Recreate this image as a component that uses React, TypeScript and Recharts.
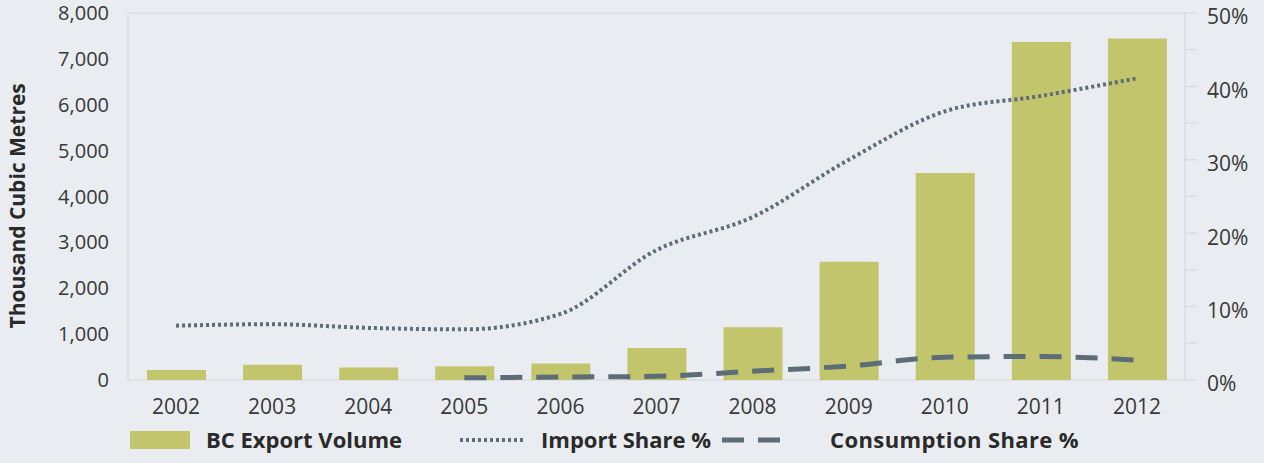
import React from "react";
import { ComposedChart, Bar, Line, XAxis, YAxis, CartesianGrid, Legend } from "recharts";

const years = ["2002", "2003", "2004", "2005", "2006", "2007", "2008", "2009", "2010", "2011", "2012"];
const exportVolume = [220, 330, 270, 300, 360, 700, 1150, 2580, 4510, 7370, 7445];
const importShare = [7.4, 7.6, 7.1, 6.9, 9.0, 17.7, 22.2, 30.0, 36.6, 38.7, 41.1];
const consumptionShare = [null, null, null, 0.3, 0.4, 0.5, 1.2, 1.9, 3.1, 3.2, 2.7];

const volumeTicks = [0, 1000, 2000, 3000, 4000, 5000, 6000, 7000, 8000];
const shareTicks = [0, 5, 10, 15, 20, 25, 30, 35, 40, 45, 50];

const data = years.map((year, i) => ({
    year,
    volume: exportVolume[i],
    importShare: importShare[i],
    consumption: consumptionShare[i],
}));

const BG = "#e9edf1";
const BAR = "#c3c56c";
const LINE = "#5d6d78";
const GRID = "#d6dce1";
const TEXT = "#383838";
const FONT = "'Open Sans', Lato, sans-serif";

function LegendRow() {
    const label = { fontFamily: FONT, fontWeight: 700, fontSize: 22, fill: "#2a2a2a" };
    return (
        <svg width={1264} height={50}>
            <rect x={130} y={16} width={60} height={18} fill={BAR} />
            <text x={206} y={33} style={label}>BC Export Volume</text>
            <line x1={460} y1={25} x2={526} y2={25} stroke={LINE} strokeWidth={4} strokeDasharray="3 3" />
            <text x={541} y={33} style={label}>Import Share %</text>
            <line x1={722} y1={25} x2={792} y2={25} stroke={LINE} strokeWidth={5} strokeDasharray="22 14" />
            <text x={830} y={33} style={{ ...label, letterSpacing: 0.4 }}>Consumption Share %</text>
        </svg>
    );
}

export default function App() {
    return (
        <div style={{ position: "absolute", left: 0, top: 0, width: 1264, height: 463, background: BG }}>
            <ComposedChart
                width={1264}
                height={463}
                data={data}
                margin={{ top: 13, right: 0, left: 0, bottom: 0 }}
            >
                <CartesianGrid horizontal vertical={false} stroke={GRID} strokeWidth={1.5} />
                <XAxis
                    dataKey="year"
                    axisLine={false}
                    tickLine={false}
                    tickMargin={13}
                    height={35}
                    tick={{ fill: TEXT, fontSize: 21, fontFamily: FONT }}
                />
                <YAxis
                    yAxisId="left"
                    width={128}
                    domain={[0, 8000]}
                    ticks={volumeTicks}
                    interval={0}
                    axisLine={{ stroke: GRID, strokeWidth: 1.5 }}
                    tickLine={false}
                    tickSize={0}
                    tickMargin={19}
                    tickFormatter={(v: number) => v.toLocaleString("en-US")}
                    tick={{ fill: TEXT, fontSize: 20, fontFamily: FONT }}
                    label={{
                        value: "Thousand Cubic Metres",
                        angle: -90,
                        position: "insideLeft",
                        offset: 18,
                        dy: 132,
                        style: { fill: "#2a2a2a", fontSize: 21, fontWeight: 700, fontFamily: FONT },
                    }}
                />
                <YAxis
                    yAxisId="right"
                    orientation="right"
                    width={79}
                    domain={[0, 50]}
                    ticks={shareTicks}
                    interval={0}
                    axisLine={{ stroke: GRID, strokeWidth: 1.5 }}
                    tickLine={{ stroke: GRID, strokeWidth: 1.5 }}
                    tickSize={12}
                    tickMargin={10}
                    tickFormatter={(v: number) => (v % 10 === 0 ? `${v}%` : "")}
                    tick={{ fill: TEXT, fontSize: 21, fontFamily: FONT, dy: 4 }}
                />
                <Legend verticalAlign="bottom" height={48} content={() => <LegendRow />} wrapperStyle={{ left: 0, width: 1264 }} />
                <Bar yAxisId="left" dataKey="volume" fill={BAR} barSize={59} isAnimationActive={false} />
                <Line
                    yAxisId="right"
                    type="monotone"
                    dataKey="importShare"
                    stroke={LINE}
                    strokeWidth={4}
                    strokeDasharray="3 3"
                    dot={false}
                    isAnimationActive={false}
                />
                <Line
                    yAxisId="right"
                    type="monotone"
                    dataKey="consumption"
                    stroke={LINE}
                    strokeWidth={5}
                    strokeDasharray="22 14"
                    dot={false}
                    connectNulls={false}
                    isAnimationActive={false}
                />
            </ComposedChart>
        </div>
    );
}
